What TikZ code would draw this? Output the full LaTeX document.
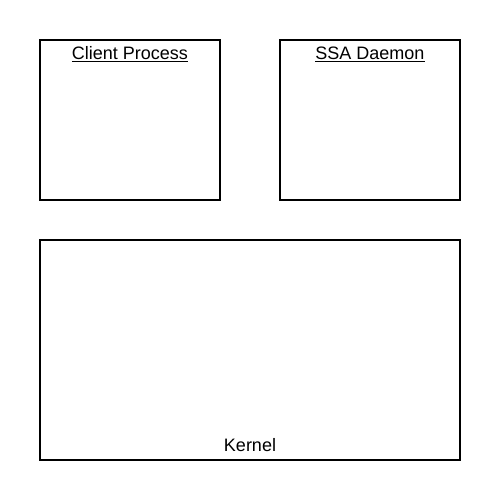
\documentclass[tikz,border=0pt]{standalone}
\usepackage{fontspec}
\setmainfont{Liberation Sans}
\begin{document}
\begin{tikzpicture}[x=1pt,y=-1pt,
  box/.style={draw=black,line width=2pt,fill=white},
  lbl/.style={font=\fontsize{18}{21}\selectfont,anchor=base,inner sep=0pt}]
\useasboundingbox[fill=white] (0,0) rectangle (500,500);
\draw[box] (40,40) rectangle (220,200);
\draw[box] (280,40) rectangle (460,200);
\draw[box] (40,240) rectangle (460,460);
\node[lbl] (client) at (130,60) {\underline{Client Process}};
\node[lbl] (ssa) at (370,60) {\underline{SSA Daemon}};
\node[lbl] (kernel) at (250,451.5) {Kernel};
\end{tikzpicture}
\end{document}
